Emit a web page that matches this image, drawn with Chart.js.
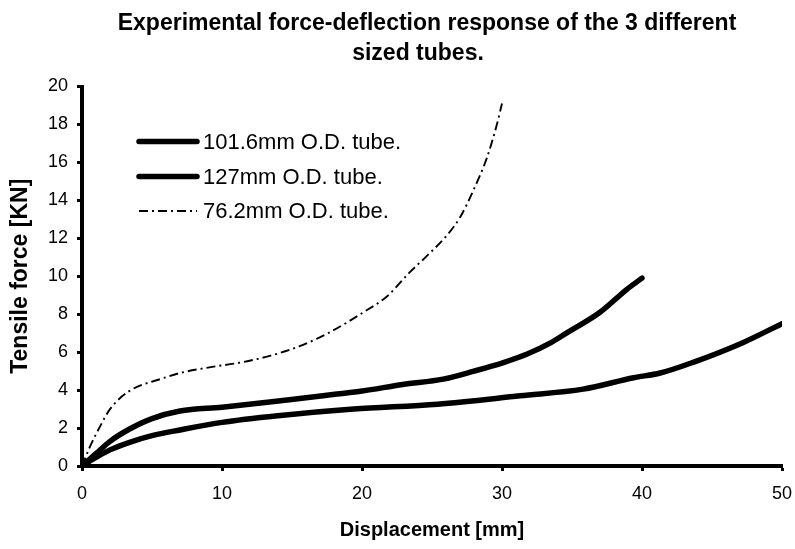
<!DOCTYPE html>
<html>
<head>
<meta charset="utf-8">
<script src="https://cdn.jsdelivr.net/npm/chart.js@4.4.1/dist/chart.umd.min.js"></script>
<style>
  html, body { margin: 0; padding: 0; background: #ffffff; }
  #wrap { width: 795px; height: 549px; position: relative; }
</style>
</head>
<body>
<div id="wrap"><canvas id="c" width="795" height="549"></canvas></div>
<script>
// ---- Data ----
const titleLines = ["Experimental force-deflection response of the 3 different", "sized tubes."];
const xAxisTitle = "Displacement [mm]";
const yAxisTitle = "Tensile force [KN]";
const seriesLabels = ["101.6mm O.D. tube.", "127mm O.D. tube.", "76.2mm O.D. tube."];

const disp101 = [0, 1, 2, 3.4, 5, 7, 10, 13.4, 16, 18.2, 20, 22.9, 25.8, 28, 30.1, 31.8, 33.5, 34.6, 37, 38.9, 40];
const force101 = [0, 0.65, 1.3, 1.95, 2.5, 2.9, 3.1, 3.37, 3.6, 3.79, 3.95, 4.3, 4.58, 5.0, 5.45, 5.9, 6.5, 7.0, 8.1, 9.3, 9.9];

const disp127 = [0, 1, 2, 3.4, 5, 7, 10, 14, 19.4, 25.4, 31.3, 35.8, 39.4, 41.3, 43.6, 47.2, 50];
const force127 = [0, 0.45, 0.85, 1.25, 1.6, 1.9, 2.3, 2.65, 3.0, 3.26, 3.7, 4.05, 4.65, 4.9, 5.45, 6.5, 7.5];

const disp76 = [0, 0.6, 1.3, 2, 3.4, 5.6, 7, 9.1, 11.3, 13.4, 15.5, 17.7, 20.1, 21.8, 23.4, 24.6, 26, 27, 28, 28.9, 29.6, 30];
const force76 = [0, 1.07, 2.1, 3.0, 3.96, 4.58, 4.9, 5.2, 5.45, 5.8, 6.3, 7.05, 8.1, 8.95, 10.2, 11.05, 12.1, 13.1, 14.6, 16.2, 17.9, 19.1];

const xTicksMax = 50, xStep = 10;
const yTicksMax = 20, yStep = 2;

function pts(xs, ys) { return xs.map((x, i) => ({ x: x, y: ys[i] })); }

function hasFont(name) {
  const cv = document.createElement('canvas').getContext('2d');
  const s = 'Displacement [mm] WWiil';
  cv.font = 'bold 24px monospace';
  const a = cv.measureText(s).width;
  cv.font = "bold 24px '" + name + "', monospace";
  const b = cv.measureText(s).width;
  return Math.abs(a - b) > 0.5;
}
const narrow = hasFont('Liberation Sans Narrow');
const xTitleFont = narrow
  ? { family: "'Liberation Sans Narrow', 'Liberation Sans', Arial, sans-serif", size: 24, weight: 'bold' }
  : { family: "'Liberation Sans', Arial, sans-serif", size: 20, weight: 'bold' };

const titlePlugin = {
  id: 'titleDraw',
  afterDraw(chart) {
    const ctx = chart.ctx;
    ctx.save();
    ctx.fillStyle = '#000';
    ctx.font = "bold 23px 'Liberation Sans', Arial, sans-serif";
    ctx.textBaseline = 'alphabetic';
    ctx.textAlign = 'center';
    ctx.fillText(titleLines[0], 427, 30);
    ctx.fillText(titleLines[1], 418, 60);
    ctx.restore();
  }
};

const legendPlugin = {
  id: 'legendDraw',
  afterDatasetsDraw(chart) {
    const ctx = chart.ctx;
    const rows = [141.5, 176.5, 211];
    ctx.save();
    chart.data.datasets.forEach((ds, i) => {
      const y = rows[i];
      ctx.beginPath();
      ctx.strokeStyle = ds.borderColor;
      ctx.lineWidth = ds.borderWidth;
      ctx.lineCap = ds.borderDash && ds.borderDash.length ? 'butt' : 'round';
      ctx.setLineDash(ds.borderDash || []);
      ctx.moveTo(139, y);
      ctx.lineTo(197, y);
      ctx.stroke();
      ctx.setLineDash([]);
      ctx.fillStyle = '#000';
      ctx.font = "22px 'Liberation Sans', Arial, sans-serif";
      ctx.textBaseline = 'middle';
      ctx.textAlign = 'left';
      ctx.fillText(ds.label, 203, y + 1);
    });
    ctx.restore();
  }
};

const tickFont = { family: "'Liberation Sans', Arial, sans-serif", size: 18 };

new Chart(document.getElementById('c'), {
  type: 'line',
  data: {
    datasets: [
      { label: seriesLabels[0], data: pts(disp101, force101), borderColor: '#000', borderWidth: 5.5,
        pointRadius: 0, cubicInterpolationMode: 'monotone', borderCapStyle: 'round', borderJoinStyle: 'round', fill: false },
      { label: seriesLabels[1], data: pts(disp127, force127), borderColor: '#000', borderWidth: 5.5,
        pointRadius: 0, cubicInterpolationMode: 'monotone', borderCapStyle: 'round', borderJoinStyle: 'round', fill: false },
      { label: seriesLabels[2], data: pts(disp76, force76), borderColor: '#000', borderWidth: 1.9,
        borderDash: [9, 4, 2, 4], pointRadius: 0, cubicInterpolationMode: 'monotone', fill: false }
    ]
  },
  options: {
    responsive: false,
    animation: false,
    devicePixelRatio: 1,
    layout: { padding: { top: 86.5, right: 13, left: 0, bottom: 0 } },
    plugins: { legend: { display: false }, title: { display: false }, tooltip: { enabled: false } },
    scales: {
      x: {
        type: 'linear', min: 0, max: xTicksMax,
        ticks: { stepSize: xStep, color: '#000', font: tickFont, padding: 12, maxRotation: 0 },
        grid: { display: true, drawOnChartArea: false, drawTicks: true, tickLength: 5, tickWidth: 3, tickColor: '#000', color: '#000' },
        border: { display: true, color: '#000', width: 4 },
        title: { display: true, text: xAxisTitle, color: '#000', font: xTitleFont, padding: { top: 0, bottom: 7 } },
        afterFit(s) { s.height = 549 - 466; s.paddingRight = 0; s.paddingLeft = 0; }
      },
      y: {
        type: 'linear', min: 0, max: yTicksMax,
        ticks: { stepSize: yStep, color: '#000', font: tickFont, padding: 9 },
        grid: { display: true, drawOnChartArea: false, drawTicks: true, tickLength: 5, tickWidth: 3, tickColor: '#000', color: '#000' },
        border: { display: true, color: '#000', width: 4 },
        title: { display: true, text: yAxisTitle, color: '#000',
          font: { family: "'Liberation Sans', Arial, sans-serif", size: 23, weight: 'bold' }, padding: { top: 7, bottom: 0 } },
        afterFit(s) { s.width = 82; s.paddingTop = 0; s.paddingBottom = 0; }
      }
    }
  },
  plugins: [titlePlugin, legendPlugin]
});
</script>
</body>
</html>
